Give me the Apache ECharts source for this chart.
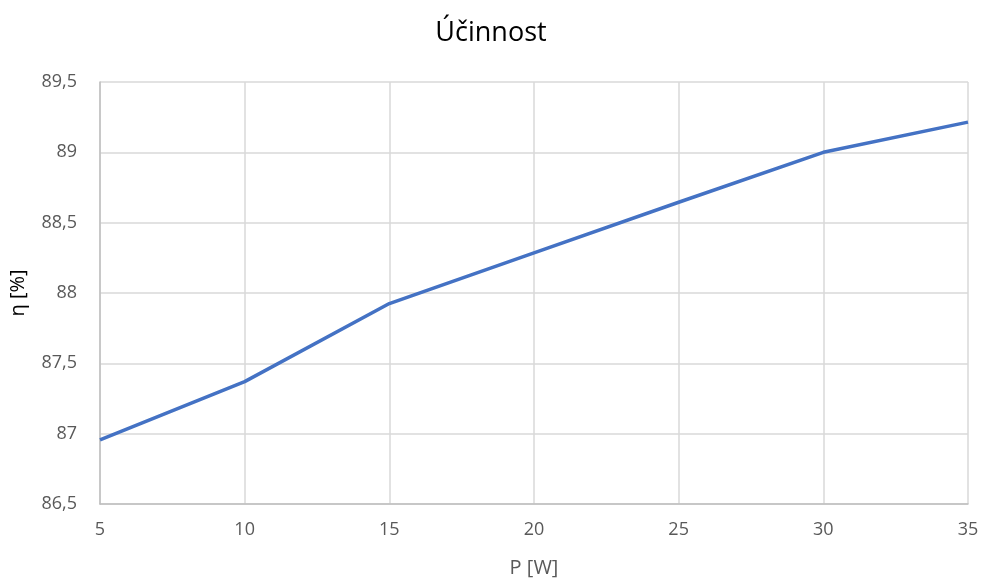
<!DOCTYPE html>
<html>
<head>
<meta charset="utf-8">
<script src="https://cdn.jsdelivr.net/npm/echarts@6/dist/echarts.min.js"></script>
<style>
html,body{margin:0;padding:0;background:#fff;}
#chart{width:982px;height:579px;}
</style>
</head>
<body>
<div id="chart"></div>
<script>
// data
var powerW = [5, 10, 15, 20, 25, 30, 35];
var efficiency = [86.955, 87.37, 87.925, 88.285, 88.645, 89.0, 89.215];
var yTicks = [86.5, 87, 87.5, 88, 88.5, 89, 89.5];

var font = '"Open Sans", "Noto Sans", sans-serif';
var points = [];
for (var i = 0; i < powerW.length; i++) {
	points.push([powerW[i], efficiency[i]]);
}

var myChart = echarts.init(document.getElementById('chart'));
var option = {
	animation: false,
	title: {
		text: 'Účinnost',
		left: 'center',
		top: 15,
		textStyle: { fontFamily: font, fontSize: 27, fontWeight: 'normal', color: '#000' }
	},
	grid: { left: 100, right: 14, top: 82, bottom: 75, containLabel: false, outerBoundsMode: 'none' },
	xAxis: {
		type: 'value',
		min: 5, max: 35, interval: 5,
		name: 'P [W]',
		nameLocation: 'middle',
		nameGap: 54,
		nameTextStyle: { fontFamily: font, fontSize: 20, color: '#595959' },
		axisLine: { lineStyle: { color: '#bfbfbf', width: 1.5 } },
		axisTick: { show: false },
		axisLabel: { fontFamily: font, fontSize: 18, color: '#595959', margin: 17 },
		splitLine: { show: true, lineStyle: { color: '#d9d9d9', width: 1.5 } }
	},
	yAxis: {
		type: 'value',
		min: yTicks[0], max: yTicks[yTicks.length - 1], interval: 0.5,
		name: 'η [%]',
		nameLocation: 'middle',
		nameGap: 72,
		nameTextStyle: { fontFamily: font, fontSize: 20, color: '#000' },
		axisLine: { show: true, lineStyle: { color: '#bfbfbf', width: 1.5 } },
		axisTick: { show: false },
		axisLabel: {
			fontFamily: font, fontSize: 18, color: '#595959', margin: 23,
			formatter: function (v) { return String(v).replace('.', ','); }
		},
		splitLine: { show: true, lineStyle: { color: '#d9d9d9', width: 1.5 } }
	},
	series: [{
		type: 'line',
		data: points,
		symbol: 'none',
		lineStyle: { color: '#4472c4', width: 3.5 }
	}]
};
myChart.setOption(option);
</script>
</body>
</html>
